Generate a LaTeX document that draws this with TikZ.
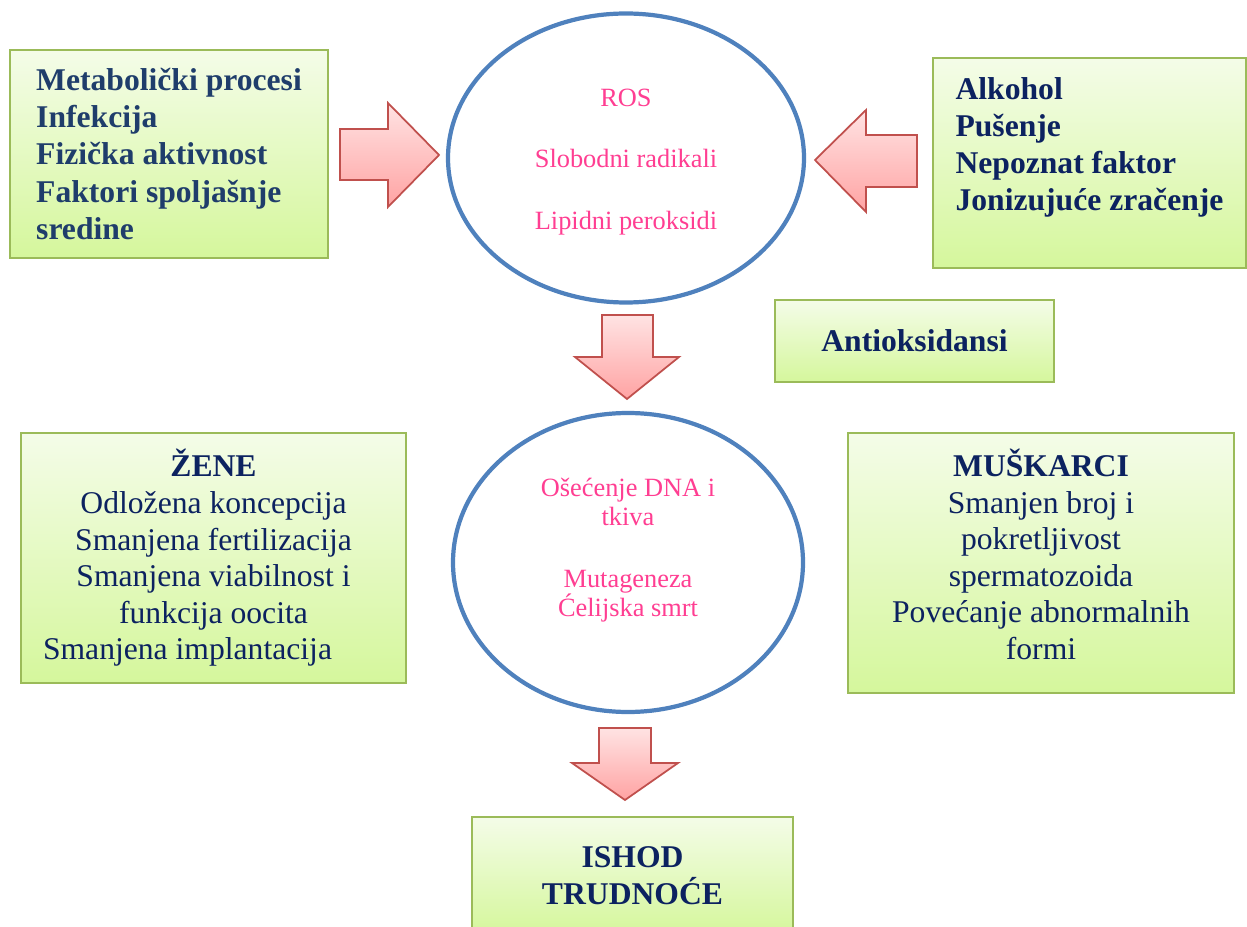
\documentclass[tikz,border=0pt]{standalone}
\usepackage{fontspec}
\setmainfont{Liberation Serif}
\usetikzlibrary{shapes.geometric}

\definecolor{boxtop}{HTML}{F4FCE8}
\definecolor{boxbottom}{HTML}{D5F79C}
\definecolor{boxline}{HTML}{9BBB59}
\definecolor{arrowtop}{HTML}{FFE3E3}
\definecolor{arrowbottom}{HTML}{FFA3A3}
\definecolor{arrowline}{HTML}{C0504D}
\definecolor{ringblue}{HTML}{4F81BD}
\definecolor{slateblue}{HTML}{1F3D6B}
\definecolor{navy}{HTML}{0C2260}
\definecolor{rospink}{HTML}{FF3E92}

\begin{document}
\begin{tikzpicture}[
    box/.style={rectangle, draw=boxline, line width=1.2pt, top color=boxtop, bottom color=boxbottom, inner sep=0pt, align=center, text=navy, font=\fontsize{18}{20.8}\selectfont},
    boldbox/.style={box, font=\bfseries\fontsize{18}{21.2}\selectfont},
    ring/.style={ellipse, draw=ringblue, line width=2.4pt, fill=white, inner sep=0pt, align=center, text=rospink, font=\fontsize{15}{16.5}\selectfont},
    fatarrow/.style={draw=arrowline, line width=1pt, top color=arrowtop, bottom color=arrowbottom, line join=miter}
]
\clip (0,0) rectangle (24.94,-18.54);

% Causes (left and right)
\node[boldbox, align=left, text=slateblue, minimum width=6.36cm, minimum height=4.16cm] (causes) at (3.38,-3.08) {Metabolički procesi\\Infekcija\\Fizička aktivnost\\Faktori spoljašnje\\sredine};
\node[boldbox, align=left, minimum width=6.26cm, minimum height=4.2cm] (habits) at (21.79,-3.26) {Alkohol\\Pušenje\\Nepoznat faktor\\Jonizujuće zračenje\\[-6pt]\strut};

% Oxidative stress
\node[ring, minimum width=7.12cm, minimum height=5.78cm] (ros) at (12.52,-3.16) {\strut\\[-14pt]ROS\\[18.5pt]Slobodni radikali\\[18.5pt]Lipidni peroksidi};
\node[boldbox, minimum width=5.58cm, minimum height=1.64cm] (antiox) at (18.29,-6.82) {Antioksidansi};

% Damage
\node[ring, minimum width=7cm, minimum height=5.98cm] (damage) at (12.56,-11.25) {Ošećenje DNA i\\tkiva\\[18.5pt]Mutageneza\\Ćelijska smrt\\[-4pt]\strut};

% Effects in women and men
\node[box, minimum width=7.7cm, minimum height=5cm] (women) at (4.27,-11.16) {\textbf{ŽENE}\\Odložena koncepcija\\Smanjena fertilizacija\\Smanjena viabilnost i\\funkcija oocita\\Smanjena implantacija\hspace*{1.04cm}};
\node[box, minimum width=7.72cm, minimum height=5.2cm] (men) at (20.82,-11.26) {\textbf{MUŠKARCI}\\Smanjen broj i\\pokretljivost\\spermatozoida\\Povećanje abnormalnih\\formi\\[-17pt]\strut};

% Outcome
\node[boldbox, minimum width=6.42cm, minimum height=2.34cm] (outcome) at (12.65,-17.51) {ISHOD\\TRUDNOĆE};

% Block arrows
\draw[fatarrow] (6.8,-2.58) -- (7.76,-2.58) -- (7.76,-2.06) -- (8.78,-3.1) -- (7.76,-4.14) -- (7.76,-3.6) -- (6.8,-3.6) -- cycle;
\draw[fatarrow] (18.34,-2.7) -- (17.32,-2.7) -- (17.32,-2.2) -- (16.3,-3.2) -- (17.32,-4.24) -- (17.32,-3.74) -- (18.34,-3.74) -- cycle;
\draw[fatarrow] (12.04,-6.3) -- (13.06,-6.3) -- (13.06,-7.14) -- (13.58,-7.14) -- (12.54,-7.98) -- (11.5,-7.14) -- (12.04,-7.14) -- cycle;
\draw[fatarrow] (11.98,-14.56) -- (13.02,-14.56) -- (13.02,-15.26) -- (13.56,-15.26) -- (12.5,-16.0) -- (11.44,-15.26) -- (11.98,-15.26) -- cycle;

\end{tikzpicture}
\end{document}
